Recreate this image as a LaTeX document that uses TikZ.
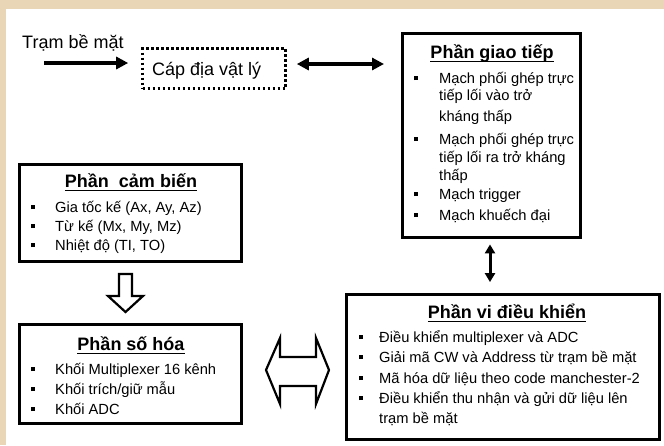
\documentclass[tikz,border=0pt]{standalone}
\usepackage{fontspec}
\setmainfont{Liberation Sans}
\usetikzlibrary{arrows.meta}
\definecolor{beige}{RGB}{232,214,182}
\newcommand\fbody{\fontsize{14.7pt}{17pt}\selectfont}
\newcommand\fbig{\fontsize{18pt}{21pt}\selectfont}
\newcommand\bl[1][21pt]{\llap{\rule[3pt]{4.5pt}{4.5pt}\hspace{#1}}\ignorespaces}
\begin{document}
\begin{tikzpicture}[x=1pt,y=-1pt,
  box/.style={draw, line width=2.8pt, fill=white, inner sep=0, rectangle},
  dotbox/.style={draw, line width=2.6pt, dash pattern=on 2.6pt off 2.4pt, inner sep=0, rectangle},
  ln/.style={anchor=base west, inner sep=0, font=\fbody},
  ttl/.style={anchor=base, inner sep=0, font=\fbig\bfseries},
  big/.style={anchor=base west, inner sep=0, font=\fbig},
  thickarrow/.style={line width=3.2pt, -{Triangle[length=12pt,width=12pt]}},
  dblarrow/.style={line width=3.2pt, {Triangle[length=12pt,width=12pt]}-{Triangle[length=12pt,width=12pt]}},
  vdblarrow/.style={line width=3pt, {Triangle[length=9pt,width=10pt]}-{Triangle[length=9pt,width=10pt]}},
  hollow/.style={draw, line width=2.2pt, fill=white, line join=miter},
  uline/.style={line width=1.4pt}
]
\useasboundingbox (0,0) rectangle (664,445);
\fill[beige] (0,0) rectangle (664,445);
\fill[white] (6,9) rectangle (664,445);

% top row
\node[big] (tram) at (22,48) {Trạm bề mặt};
\node[dotbox, minimum width=143pt, minimum height=40pt] (cap) at (214,68.5) {};
\node[big] (capT) at (152,75) {Cáp địa vật lý};
\coordinate (tramA) at (44,63);
\draw[thickarrow, shorten >=13pt] (tramA) -- (tramA -| cap.west);
\coordinate (capA) at (287,64);
\draw[dblarrow, shorten <=10pt, shorten >=17pt] (capA -| cap.east) -- (capA -| 401,0);

% Phan giao tiep
\node[box, minimum width=178pt, minimum height=204pt] (gt) at (491.5,135.5) {};
\node[ttl] (gtT) at (492,58) {Phần giao tiếp};
\draw[uline] ([yshift=-3.5pt]gtT.base west) -- ([yshift=-3.5pt]gtT.base east);
\node[ln] (gt1) at (439,83) {\bl Mạch phối ghép trực};
\node[ln] (gt2) at (439,100) {tiếp lối vào trở};
\node[ln] (gt3) at (439,121) {kháng thấp};
\node[ln] (gt4) at (439,144) {\bl Mạch phối ghép trực};
\node[ln] (gt5) at (439,162) {tiếp lối ra trở kháng};
\node[ln] (gt6) at (439,180) {thấp};
\node[ln] (gt7) at (439,199) {\bl Mạch trigger};
\node[ln] (gt8) at (439,220) {\bl Mạch khuếch đại};

% Phan vi dieu khien
\node[box, minimum width=313pt, minimum height=145pt] (vdk) at (503,367) {};
\node[ttl] (vdkT) at (507,318) {Phần vi điều khiển};
\draw[uline] ([yshift=-3.5pt]vdkT.base west) -- ([yshift=-3.5pt]vdkT.base east);
\node[ln] (vdk1) at (379,342) {\bl[16pt]Điều khiển multiplexer và ADC};
\node[ln] (vdk2) at (379,362) {\bl[16pt]Giải mã CW và Address từ trạm bề mặt};
\node[ln] (vdk3) at (379,383) {\bl[16pt]Mã hóa dữ liệu theo code manchester-2};
\node[ln] (vdk4) at (379,403) {\bl[16pt]Điều khiển thu nhận và gửi dữ liệu lên};
\node[ln] (vdk5) at (379,423) {trạm bề mặt};
\coordinate (gvA) at (490,0);
\draw[vdblarrow, shorten <=5.5pt, shorten >=11pt] (gvA |- gt.south) -- (gvA |- vdk.north);

% Phan cam bien
\node[box, minimum width=222pt, minimum height=97pt] (cb) at (130.5,213) {};
\node[ttl] (cbT) at (131,187) {Phần\ \ cảm biến};
\draw[uline] ([yshift=-3.5pt]cbT.base west) -- ([yshift=-3.5pt]cbT.base east);
\node[ln] (cb1) at (55,212) {\bl[20pt]Gia tốc kế (Ax, Ay, Az)};
\node[ln] (cb2) at (55,231) {\bl[20pt]Từ kế (Mx, My, Mz)};
\node[ln] (cb3) at (55,250) {\bl[20pt]Nhiệt độ (TI, TO)};

% Phan so hoa
\node[box, minimum width=222pt, minimum height=99pt] (sh) at (130.5,374) {};
\node[ttl] (shT) at (131,350) {Phần số hóa};
\draw[uline] ([yshift=-3.5pt]shT.base west) -- ([yshift=-3.5pt]shT.base east);
\node[ln] (sh1) at (55,374) {\bl[20pt]Khối Multiplexer 16 kênh};
\node[ln] (sh2) at (55,394) {\bl[20pt]Khối trích/giữ mẫu};
\node[ln] (sh3) at (55,414) {\bl[20pt]Khối ADC};

% hollow arrows
\draw[hollow] (119,274) -- (132,274) -- (132,296) -- (143,296) -- (125.5,312)
  -- (108,296) -- (119,296) -- cycle;
\draw[hollow] (266,370) -- (280,338) -- (280,357) -- (316,357) -- (316,338)
  -- (329,370) -- (316,404) -- (316,386) -- (280,386) -- (280,404) -- cycle;
\end{tikzpicture}
\end{document}
